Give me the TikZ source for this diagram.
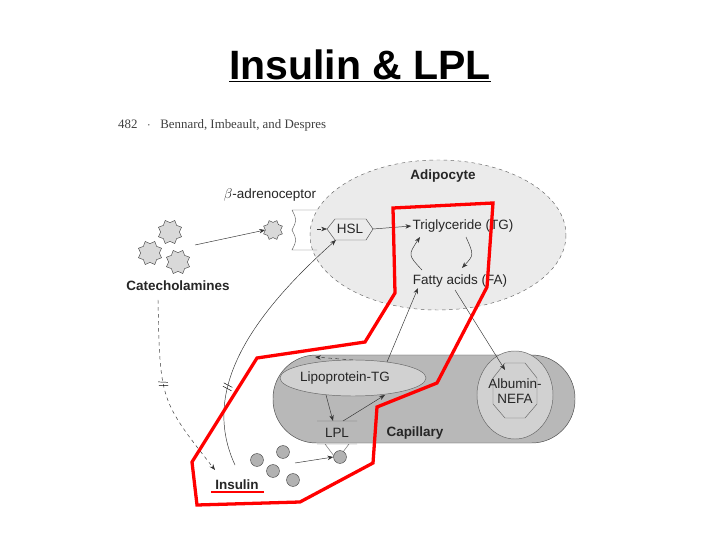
\documentclass[tikz,border=0pt]{standalone}
\usepackage{fontspec}
\setmainfont{Liberation Sans}
\newfontfamily\serif{Liberation Serif}
\usetikzlibrary{shapes.geometric,arrows.meta,decorations.markings}
\begin{document}
\begin{tikzpicture}[x=0.03cm,y=-0.03cm,
  lbl/.style={font=\fontsize{11.5}{13}\selectfont,text=black!85,inner sep=1pt},
  arr/.style={-{Stealth[length=5pt]},black!80,thin},
  catstar/.style={star,star points=8,star point ratio=0.75,draw=black!70,fill=black!15,minimum size=16pt,inner sep=0pt},
  ball/.style={circle,draw=black!70,fill=black!30,minimum size=11pt,inner sep=0pt},
  tick/.style={postaction={decorate,decoration={markings,mark=at position #1 with {\draw[black,-,solid] (-2pt,-4pt)--(0pt,4pt) (1pt,-4pt)--(3pt,4pt);}}}}]
\useasboundingbox (0,0) rectangle (720,540);
\fill[white] (0,0) rectangle (720,540);
\node[font=\bfseries\fontsize{35}{38}\selectfont] (title) at (360,66) {\underline{Insulin \& LPL}};
\node[anchor=west,font=\serif\fontsize{11}{13}\selectfont,text=black!75] (hdr) at (114,125) {482 \ \ $\cdot$ \ \ Bennard, Imbeault, and Despres};
% adipocyte
\fill[black!8,draw=black!60,dashed] (438,235) ellipse [x radius=128,y radius=75];
\node[lbl,font=\bfseries\fontsize{11.5}{13}\selectfont] (adit) at (443,176) {Adipocyte};
% capillary
\draw[black!70,fill=black!28,rounded corners=1.3cm] (273,355) rectangle (575,443);
\node[lbl,font=\bfseries\fontsize{11.5}{13}\selectfont] (cap) at (415,433) {Capillary};
\draw[black!60,fill=black!18] (353,378) ellipse [x radius=73,y radius=18];
\node[lbl] (lipo) at (345,378) {Lipoprotein-TG};
\draw[black!60,fill=black!18] (515,395) ellipse [x radius=38,y radius=44];
\draw[black!60] (493,378)--(505,363)--(525,363)--(537,378)--(537,404)--(525,418)--(505,418)--(493,404)--cycle;
\node[lbl,align=center] (alb) at (515,391) {Albumin-\\NEFA};
\node[lbl,minimum width=36pt] (lpl) at (337,433) {LPL};
\draw[black!60] (317,421)--(357,421) (317,444)--(357,444) (325,444)--(337,460)--(349,444);
% adipocyte contents
\node[lbl] (beta) at (270,195) {$\beta$-adrenoceptor};
\draw[black!60] (292,210) .. controls (297,220) .. (292,230) .. controls (297,240) .. (292,250) -- (317,250) (292,210)--(317,210);
\node[catstar,minimum size=13pt] (s0) at (273,230) {};
\draw[black!70] (327,229)--(335,219)--(366,219)--(373,229)--(366,240)--(335,240)--cycle;
\node[lbl] (hsl) at (350,229) {HSL};
\coordinate (hslw) at (327,229);
\coordinate (hsls) at (336,240);
\node[lbl] (tg) at (463,226) {Triglyceride (TG)};
\node[lbl] (fa) at (460,281) {Fatty acids (FA)};
\draw[arr] (373,229) -- (tg.west);
\draw[arr] (422,270) .. controls (408,255) .. (420,237);
\draw[arr] (466,237) .. controls (474,255) .. (462,268);
\draw[arr,dashed] (317,229) -- (hslw);
% catecholamines
\node[catstar] (c1) at (170,232) {};
\node[catstar] (c2) at (150,253) {};
\node[catstar] (c3) at (178,262) {};
\node[lbl,font=\bfseries\fontsize{11.5}{13}\selectfont] (cat) at (178,286) {Catecholamines};
\draw[arr] (195,245) -- (s0.west);
% insulin
\node[lbl,font=\bfseries\fontsize{11.5}{13}\selectfont] (ins) at (237,485) {Insulin};
\draw[red,line width=1.5pt] (211,492)--(264,492);
\node[ball] (b1) at (257,460) {};
\node[ball] (b2) at (283,452) {};
\node[ball] (b3) at (273,471) {};
\node[ball] (b4) at (293,480) {};
\node[ball] (b5) at (340,457) {};
\draw[arr] (295,463) -- (b5.west);
\draw[arr,dashed,tick=0.45] (158,300) .. controls (160,400) .. (215,470);
\draw[arr,tick=0.3] (235,465) .. controls (205,400) and (235,330) .. (hsls);
\draw[arr] (387,362) -- (418,288);
\draw[arr] (455,290) -- (505,370);
\draw[arr] (326,395) -- (333,421);
\draw[arr] (343,421) -- (385,395);
\draw[arr,dashed] (353,360) -- (315,357);
% red outline
\draw[red,line width=2.8pt,line join=miter] (393,208)--(493,203)--(487,287)--(437,383)--(377,407)--(373,463)--(300,502)--(197,505)--(192,462)--(257,358)--(365,342)--(395,293)--cycle;
\end{tikzpicture}
\end{document}
